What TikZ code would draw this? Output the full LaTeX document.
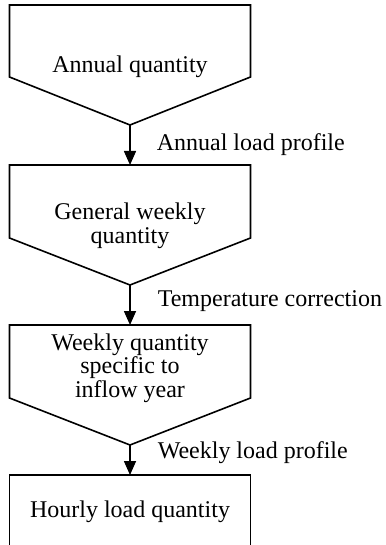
\documentclass[tikz,border=0pt]{standalone}
\usepackage{fontspec}
\setmainfont{Liberation Serif}
\usetikzlibrary{arrows.meta}
\begin{document}
\begin{tikzpicture}[x=1pt,y=-1pt,line width=1.6pt,
  txt/.style={font=\fontsize{24}{23.5}\selectfont,inner sep=0pt,align=center,anchor=base},
  lbl/.style={font=\fontsize{24}{23.5}\selectfont,inner sep=0pt,anchor=base west},
  conn/.style={-{Triangle[length=14pt,width=12pt]}},
  shapeline/.style={draw=black,line join=miter}]
\useasboundingbox (0,0) rectangle (385,545);
\clip (0,0) rectangle (385,545);
% shape 1
\draw[shapeline] (9.5,5) -- (250.5,5) -- (250.5,77) -- (130,125) -- (9.5,77) -- cycle;
\coordinate (t1) at (130,125);
\node[txt] (n1) at (130,73) {Annual quantity};
% shape 2
\draw[shapeline] (9.5,165) -- (250.5,165) -- (250.5,238) -- (130,285) -- (9.5,238) -- cycle;
\coordinate (b2) at (130,165);
\coordinate (t2) at (130,285);
\node[txt] (n2) at (130,243) {General weekly\\quantity};
% shape 3
\draw[shapeline] (9.5,325) -- (250.5,325) -- (250.5,398) -- (130,445) -- (9.5,398) -- cycle;
\coordinate (b3) at (130,325);
\coordinate (t3) at (130,445);
\node[txt] (n3) at (130,397) {Weekly quantity\\specific to\\inflow year};
% shape 4
\draw[shapeline] (9.5,550) -- (9.5,475) -- (250.5,475) -- (250.5,550);
\coordinate (b4) at (130,475);
\node[txt] (n4) at (130,517) {Hourly load quantity};
% connectors
\draw[conn] (t1) -- (b2);
\draw[conn] (t2) -- (b3);
\draw[conn] (t3) -- (b4);
% labels
\node[lbl] (l1) at (156,151) {Annual load profile};
\node[lbl] (l2) at (157,306) {Temperature correction};
\node[lbl] (l3) at (157,458) {Weekly load profile};
\end{tikzpicture}
\end{document}
